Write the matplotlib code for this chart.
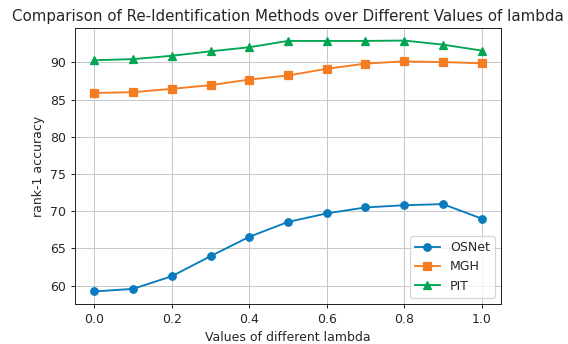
import matplotlib
matplotlib.use("Agg")
import matplotlib.pyplot as plt

# lambda values and rank-1 accuracy
lambdas = [0.0, 0.1, 0.2, 0.3, 0.4, 0.5, 0.6, 0.7, 0.8, 0.9, 1.0]
osnet = [59.2, 59.55, 61.25, 63.95, 66.55, 68.55, 69.7, 70.5, 70.8, 70.95, 69.0]
mgh = [85.9, 86.0, 86.45, 86.95, 87.7, 88.25, 89.15, 89.85, 90.15, 90.05, 89.9]
pit = [90.3, 90.45, 90.9, 91.5, 92.05, 92.9, 92.9, 92.9, 92.95, 92.4, 91.6]

plt.rcParams['text.color'] = '#262626'
plt.rcParams['axes.labelcolor'] = '#262626'
plt.rcParams['xtick.color'] = '#262626'
plt.rcParams['ytick.color'] = '#262626'
plt.rcParams['axes.edgecolor'] = '#262626'

fig = plt.figure(figsize=(568 / 90, 344 / 90), dpi=90)
ax = fig.add_axes([75 / 568, 40 / 344, 426 / 568, 276 / 344])

ax.plot(lambdas, osnet, marker='o', color='#0a7bbc', label='OSNet')
ax.plot(lambdas, mgh, marker='s', color='#f57c21', label='MGH')
ax.plot(lambdas, pit, marker='^', color='#00a651', label='PIT')

ax.set_title('Comparison of Re-Identification Methods over Different Values of lambda')
ax.set_xlabel('Values of different lambda')
ax.set_ylabel('rank-1 accuracy')
ax.grid(True, color='#c8c8c8')
ax.set_axisbelow(True)
ax.legend(loc='lower right')

fig.savefig('out.png', dpi=90)
